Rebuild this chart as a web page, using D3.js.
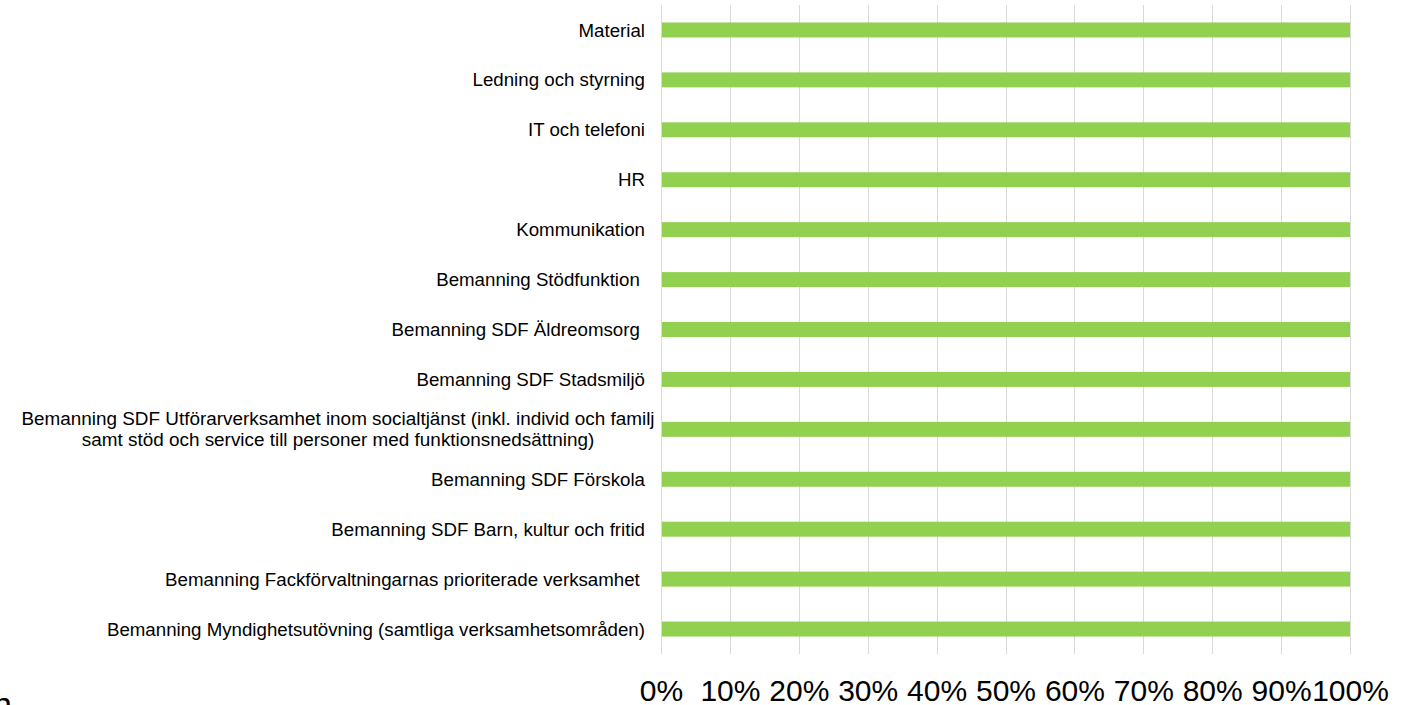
<!DOCTYPE html>
<html>
<head>
<meta charset="utf-8">
<script src="https://cdn.jsdelivr.net/npm/d3@7"></script>
<style>
  body { margin: 0; background: #fff; }
  svg text { font-family: "Liberation Sans", Arial, sans-serif; white-space: pre; }
</style>
</head>
<body>
<div id="chart"></div>
<script>
// kategorier uppifrån och ned ("\n" = radbrytning)
var categories = [
  "Material",
  "Ledning och styrning",
  "IT och telefoni",
  "HR",
  "Kommunikation",
  "Bemanning Stödfunktion ",
  "Bemanning SDF Äldreomsorg ",
  "Bemanning SDF Stadsmiljö",
  "Bemanning SDF Utförarverksamhet inom socialtjänst (inkl. individ och familj\nsamt stöd och service till personer med funktionsnedsättning)",
  "Bemanning SDF Förskola",
  "Bemanning SDF Barn, kultur och fritid",
  "Bemanning Fackförvaltningarnas prioriterade verksamhet ",
  "Bemanning Myndighetsutövning (samtliga verksamhetsområden)"
];
var values = [1, 1, 1, 1, 1, 1, 1, 1, 1, 1, 1, 1, 1];
var ticks = [0, 0.1, 0.2, 0.3, 0.4, 0.5, 0.6, 0.7, 0.8, 0.9, 1];

var width = 1414, height = 705;
var svg = d3.select("#chart").append("svg")
  .attr("width", width).attr("height", height);

var x = d3.scaleLinear().domain([0, 1]).range([661, 1350]);
var y = d3.scaleBand().domain(categories).range([5, 654]).paddingInner(0.7).paddingOuter(0.35);

// rutnät
svg.append("g").selectAll("line")
  .data(ticks)
  .enter().append("line")
  .attr("x1", function(d){ return Math.round(x(d)) + 0.5; })
  .attr("x2", function(d){ return Math.round(x(d)) + 0.5; })
  .attr("y1", 5).attr("y2", 654)
  .attr("stroke", "#d9d9d9").attr("stroke-width", 1);

// staplar
svg.append("g").selectAll("rect")
  .data(categories)
  .enter().append("rect")
  .attr("x", x(0) + 1)
  .attr("y", function(d){ return y(d); })
  .attr("width", function(d, i){ return x(values[i]) - x(0) - 1; })
  .attr("height", y.bandwidth())
  .attr("fill", "#92d050");

// kategorietiketter
svg.append("g").selectAll("text")
  .data(categories)
  .enter().append("text")
  .attr("font-size", "18.7px")
  .attr("fill", "#000")
  .each(function(d){
    var t = d3.select(this);
    var lines = d.split("\n");
    var cy = y(d) + y.bandwidth() / 2;
    if (lines.length === 1) {
      t.attr("x", 645).attr("y", cy).attr("dy", "0.35em")
        .attr("text-anchor", "end").text(d);
    } else {
      // tvåradig etikett är centrerad
      t.attr("text-anchor", "middle").attr("font-size", "18.9px");
      lines.forEach(function(l, k){
        t.append("tspan")
          .attr("x", 338)
          .attr("y", cy + (k - (lines.length - 1) / 2) * 21)
          .attr("dy", "0.35em")
          .text(l);
      });
    }
  });

// x-axel
var axis = svg.append("g")
  .attr("transform", "translate(0,654)")
  .call(d3.axisBottom(x).tickValues(ticks).tickFormat(d3.format(".0%")).tickSize(0).tickPadding(0));
axis.select(".domain").remove();
axis.selectAll("text")
  .attr("y", 47)
  .attr("dy", 0)
  .attr("font-size", "30px")
  .attr("font-family", "Liberation Sans, Arial, sans-serif")
  .attr("fill", "#000");

// avklippt text nere till vänster
svg.append("text")
  .attr("x", -7).attr("y", 716)
  .attr("font-size", "34px")
  .attr("fill", "#000")
  .text("n");
</script>
</body>
</html>
